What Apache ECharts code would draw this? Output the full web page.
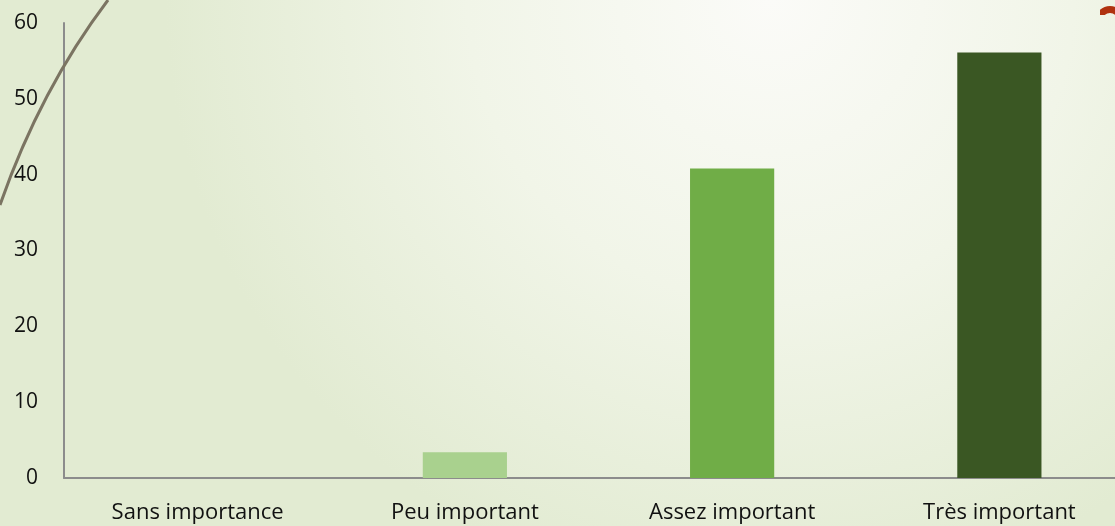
<!DOCTYPE html>
<html><head><meta charset="utf-8">
<script src="https://cdn.jsdelivr.net/npm/echarts@6/dist/echarts.min.js"></script>
<style>html,body{margin:0;padding:0;overflow:hidden;width:1115px;height:526px;}#c{width:1133px;height:526px;}</style>
</head><body><div id="c"></div>
<script>
const categories = ['Sans importance', 'Peu important', 'Assez important', 'Très important'];
const values = [0, 3.4, 40.8, 56.1];
const barColors = ['#A9D18E', '#A9D18E', '#70AD47', '#3A5723'];
const yTicks = [0, 10, 20, 30, 40, 50, 60];

const chart = echarts.init(document.getElementById('c'));
chart.setOption({
  backgroundColor: {
    type: 'radial', x: 0.68, y: 0, r: 1.15,
    colorStops: [
      {offset: 0, color: '#fbfbf8'},
      {offset: 0.5, color: '#f1f5e8'},
      {offset: 1, color: '#e2ebd2'}
    ]
  },
  animation: false,
  grid: {left: 64, top: 23, right: 0, bottom: 48, containLabel: false},
  xAxis: {
    type: 'category', data: categories,
    axisLine: {show: true, lineStyle: {color: '#8c8c8c', width: 2}},
    axisTick: {show: false},
    axisLabel: {color: '#111', fontFamily: 'Open Sans', fontSize: 22, margin: 24, interval: 0}
  },
  yAxis: {
    type: 'value', min: yTicks[0], max: yTicks[yTicks.length - 1], interval: 10,
    axisLine: {show: true, lineStyle: {color: '#8c8c8c', width: 2}},
    axisTick: {show: false},
    splitLine: {show: false},
    axisLabel: {color: '#111', fontFamily: 'Open Sans', fontSize: 21, margin: 26}
  },
  series: [{
    type: 'bar',
    data: values.map((v, i) => ({value: v, itemStyle: {color: barColors[i]}})),
    barWidth: '31.5%'
  }],
  graphic: [
    {type: 'bezierCurve', z: 100, shape: {x1: 0, y1: 205, x2: 108, y2: 0, cpx1: 40, cpy1: 90}, style: {stroke: '#7b7462', lineWidth: 3, fill: null}},
    {type: 'ring', z: 100, shape: {cx: 1110, cy: 21, r: 15, r0: 8}, style: {fill: '#b0320f'}, clipPath: {type: 'rect', shape: {x: 1100, y: 5, width: 20, height: 10}}}
  ]
});
</script></body></html>
